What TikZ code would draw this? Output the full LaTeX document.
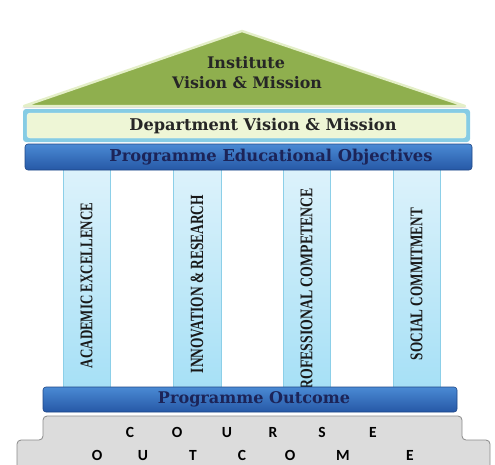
\documentclass[tikz,border=0pt]{standalone}
\usepackage{fontspec}
\setmainfont{DejaVu Serif}
\newfontfamily\pillarfont{Liberation Serif}
\newfontfamily\basefont{Carlito}
\usetikzlibrary{shadings}
\definecolor{roofgreen}{HTML}{8FAF4E}
\definecolor{roofedge}{HTML}{E4EFC8}
\definecolor{deptframe}{HTML}{86CCE4}
\definecolor{deptfill}{HTML}{EEF6D6}
\definecolor{bartop}{HTML}{4A8AD4}
\definecolor{barbot}{HTML}{2658A6}
\definecolor{navytext}{HTML}{1C2458}
\definecolor{pilltop}{HTML}{DDF2FB}
\definecolor{pillbot}{HTML}{A6E0F6}
\definecolor{pilledge}{HTML}{8CCFE8}
\definecolor{basefill}{HTML}{DCDCDC}
\definecolor{baseedge}{HTML}{8A8A8A}
\tikzset{
  pillarbox/.style={draw=pilledge, line width=0.6pt, top color=pilltop, bottom color=pillbot},
  pillartext/.style={rotate=90, font=\pillarfont\bfseries, text=black!90, inner sep=0pt},
  bluebar/.style={draw=barbot!80!black, line width=0.6pt, rounded corners=3pt, top color=bartop, bottom color=barbot},
  titletext/.style={font=\bfseries, inner sep=0pt},
  baseletter/.style={font=\basefont\bfseries\fontsize{15.5}{16}\selectfont, inner sep=0pt, text=black, anchor=base}
}
\begin{document}
\begin{tikzpicture}[x=1pt,y=-1pt]
\useasboundingbox (0,0) rectangle (495,464);
% pillars
\foreach \n/\xa/\xb in {1/63/110, 2/173/221, 3/283/330, 4/393/440}{
  \path[pillarbox] (\xa,168) rectangle (\xb,388);
}
\node[pillartext] (p1) at (86.5,285.5) {\resizebox{165pt}{11.8pt}{ACADEMIC EXCELLENCE}};
\node[pillartext] (p2) at (197,284) {\resizebox{178pt}{12.4pt}{INNOVATION \& RESEARCH}};
\node[pillartext] (p3) at (306.5,293) {\resizebox{210pt}{11.8pt}{PROFESSIONAL COMPETENCE}};
\node[pillartext] (p4) at (416.5,284) {\resizebox{152pt}{11.8pt}{SOCIAL COMMITMENT}};
% roof
\fill[black!12] (22,108) -- (242,31) -- (467,108) -- cycle;
\draw[roofedge, line width=2.4pt, fill=roofgreen, line join=round] (24,106) -- (242,31) -- (465,106) -- cycle;
\node[titletext, text=black!85] (inst) at (246,63) {\resizebox{78pt}{!}{Institute}};
\node[titletext, text=black!85] (vm) at (247,82.5) {\resizebox{150pt}{!}{Vision \& Mission}};
% department
\path[fill=deptframe, rounded corners=3pt] (23,109) rectangle (470,142);
\path[fill=deptfill, draw=white!60!deptfill, rounded corners=3pt] (27,113) rectangle (466,138);
\node[titletext, text=black!85] (dept) at (263,126) {\resizebox{267pt}{!}{Department Vision \& Mission}};
% PEO
\path[bluebar] (25,144) rectangle (472,170);
\node[titletext, text=navytext] (peo) at (271,157) {\resizebox{323pt}{!}{Programme Educational Objectives}};
% base
\path[fill=basefill, draw=baseedge, line width=0.8pt, rounded corners=4pt]
  (17,470) -- (17,440) -- (43,440) -- (43,416) -- (462,416) -- (462,440) -- (490,440) -- (490,470);
% programme outcome
\path[bluebar] (43,387) rectangle (457,412);
\node[titletext, text=navytext] (po) at (254,399.5) {\resizebox{192pt}{!}{Programme Outcome}};
% course outcome letters
\foreach \c/\x in {C/130, O/177, U/227, R/273, S/322, E/373}{
  \node[baseletter] at (\x,437) {\c};
}
\foreach \c/\x in {O/97, U/143, T/193, C/242, O/290, M/343, E/410}{
  \node[baseletter] at (\x,460) {\c};
}
\end{tikzpicture}
\end{document}
